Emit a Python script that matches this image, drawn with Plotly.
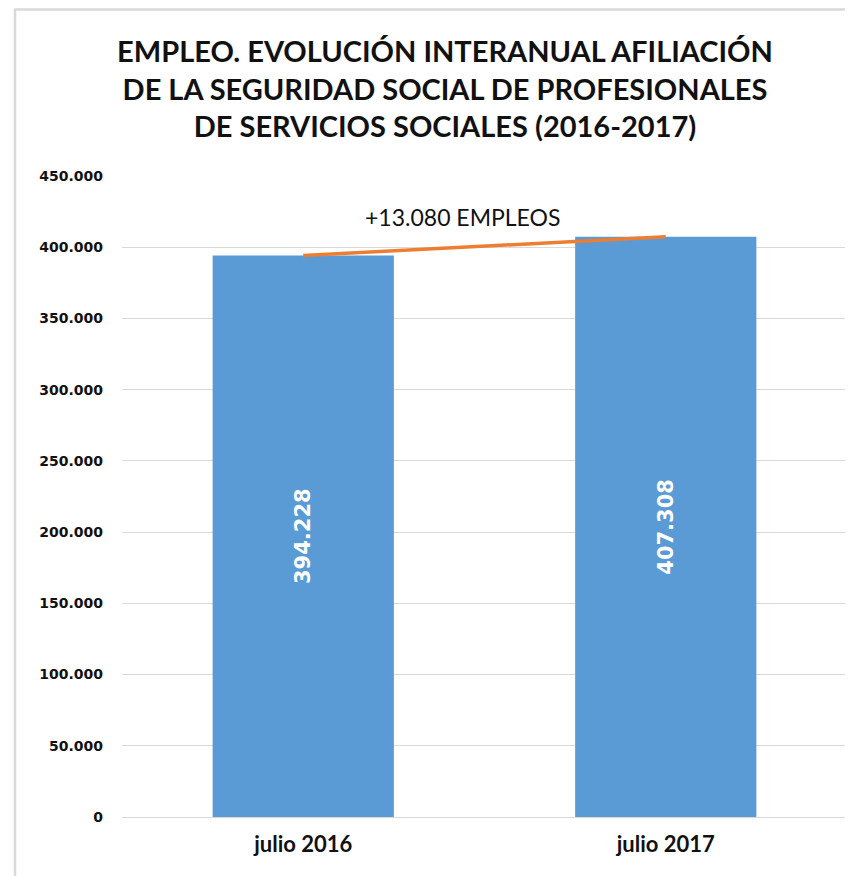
import plotly.graph_objects as go

categories = ["julio 2016", "julio 2017"]
values = [394228, 407308]
change_label = "+13.080 EMPLEOS"
title_lines = [
    "EMPLEO. EVOLUCIÓN INTERANUAL AFILIACIÓN",
    "DE LA SEGURIDAD SOCIAL DE PROFESIONALES",
    "DE SERVICIOS SOCIALES (2016-2017)",
]
y_ticks = list(range(0, 450001, 50000))

# page body adds an 8px offset; size the figure so it fits the window
OFF = 8
W, H = 853 - OFF, 876 - OFF
ml, mt = 122 - OFF, 176 - OFF
pw, ph = 725, 641
mr, mb = W - ml - pw, H - mt - ph

FONT_NARROW = "Lato, Liberation Sans Narrow, sans-serif"

fig = go.Figure()
fig.add_trace(go.Bar(
    x=categories, y=values, width=0.5,
    marker=dict(color="#5B9BD5", line=dict(width=0)),
    texttemplate="<b>%{y:,d}</b>", textposition="inside", insidetextanchor="middle",
    textangle=-90,
    textfont=dict(family="DejaVu Sans", size=21, color="white"),
    hoverinfo="skip",
))
fig.add_trace(go.Scatter(
    x=categories, y=values, mode="lines",
    line=dict(color="#ED7D31", width=3.5), hoverinfo="skip",
))
fig.add_annotation(
    x=0.44, y=421500, xref="x", yref="y", text=change_label, showarrow=False,
    font=dict(family=FONT_NARROW, size=23, color="#111111"),
)
# outer chart border
fig.add_shape(type="rect", xref="paper", yref="paper",
              x0=(15 - 122) / pw, x1=(W + 20 - ml) / pw,
              y0=-(H + 20 - mt - ph) / ph, y1=1 + (mt - 1.5) / ph,
              line=dict(color="#D9D9D9", width=2.5), layer="below")

fig.update_layout(
    width=W, height=H,
    margin=dict(l=ml, r=mr, t=mt, b=mb),
    paper_bgcolor="white", plot_bgcolor="white",
    separators=",.",
    showlegend=False,
    title=dict(
        text="<br>".join(f"<b>{t}</b>" for t in title_lines),
        x=(445 - OFF) / W, xanchor="center", xref="container",
        y=1 - 54 / H, yanchor="top",
        font=dict(family=FONT_NARROW, size=29, color="#111111"),
    ),
    xaxis=dict(
        type="category", showgrid=False, showline=False, ticks="",
        tickfont=dict(family=FONT_NARROW, size=22, color="#111111"),
        ticklabelstandoff=12,
    ),
    yaxis=dict(
        range=[0, 450000], tickvals=y_ticks, tickformat=",d",
        showgrid=True, gridcolor="#D9D9D9", gridwidth=1,
        zeroline=True, zerolinecolor="#D9D9D9", zerolinewidth=1,
        showline=False, ticks="",
        ticklabelstandoff=18,
        tickfont=dict(family="DejaVu Sans", size=14, color="#111111", weight="bold"),
    ),
)
fig.update_xaxes(tickprefix="<b>", ticksuffix="</b>")

fig.write_html("out.html")
